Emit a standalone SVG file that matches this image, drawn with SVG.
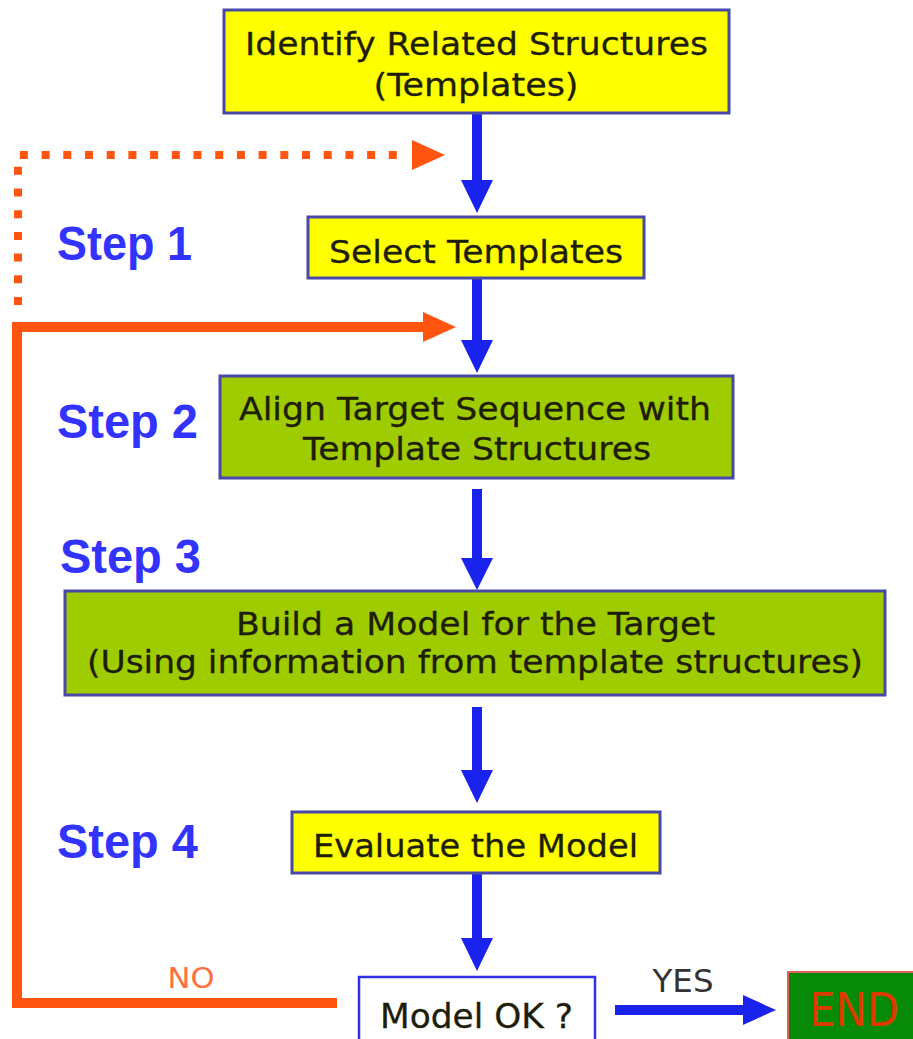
<svg xmlns="http://www.w3.org/2000/svg" width="913" height="1039" viewBox="0 0 913 1039">
  <style>
    .box-y { fill: #ffff00; stroke: #4848a8; stroke-width: 3; }
    .box-g { fill: #9fcc00; stroke: #4848a8; stroke-width: 3; }
    .box-w { fill: #ffffff; stroke: #3030ee; stroke-width: 2.5; }
    .lbl { font-family: "DejaVu Sans", Verdana, sans-serif; fill: #1e1e08; text-anchor: middle; stroke: #1e1e08; stroke-width: 0.3; }
    .step { font-family: "Liberation Sans", Arial, sans-serif; font-weight: bold; font-size: 49px; fill: #3333ff; }
    .flow { stroke: #1a22ee; stroke-width: 10; fill: none; }
    .head { fill: #1a22ee; }
    .back { stroke: #ff5511; stroke-width: 10; fill: none; }
    .back-dot { stroke: #ff5511; stroke-width: 8; fill: none; stroke-dasharray: 8 13.7; }
    .ohead { fill: #ff5511; }
  </style>

  <rect width="913" height="1039" fill="#ffffff"/>

  <!-- step labels -->
  <g id="step-labels">
    <text class="step" x="57" y="260" textLength="135" lengthAdjust="spacingAndGlyphs">Step 1</text>
    <text class="step" x="57" y="438" textLength="141" lengthAdjust="spacingAndGlyphs">Step 2</text>
    <text class="step" x="60" y="573" textLength="141" lengthAdjust="spacingAndGlyphs">Step 3</text>
    <text class="step" x="57" y="858" textLength="141" lengthAdjust="spacingAndGlyphs">Step 4</text>
  </g>

  <!-- connectors -->
  <g id="connectors">
    <!-- main downward flow -->
    <line class="flow" x1="477" y1="113" x2="477" y2="182"/>
    <polygon class="head" points="461,180 493,180 477,213"/>
    <line class="flow" x1="477" y1="278" x2="477" y2="342"/>
    <polygon class="head" points="461,340 493,340 477,373"/>
    <line class="flow" x1="477" y1="489" x2="477" y2="560"/>
    <polygon class="head" points="461,558 493,558 477,590"/>
    <line class="flow" x1="477" y1="707" x2="477" y2="772"/>
    <polygon class="head" points="461,770 493,770 477,803"/>
    <line class="flow" x1="477" y1="873" x2="477" y2="940"/>
    <polygon class="head" points="461,938 493,938 477,971"/>

    <!-- YES branch -->
    <line class="flow" x1="615" y1="1010" x2="746" y2="1010"/>
    <polygon class="head" points="743,995 743,1025 776,1010"/>

    <!-- NO loop back to alignment -->
    <path class="back" d="M337,1003 H17 V327 H426"/>
    <polygon class="ohead" points="423,312 423,342 456,327"/>

    <!-- optional loop back to template search -->
    <path class="back-dot" d="M18,305 V155 H410"/>
    <polygon class="ohead" points="412,140 412,170 445,155"/>

    <text x="191" y="988" font-family="DejaVu Sans, Verdana, sans-serif" font-size="28" fill="#ff7040" text-anchor="middle" textLength="47" lengthAdjust="spacingAndGlyphs">NO</text>
    <text x="683" y="992" font-family="DejaVu Sans, Verdana, sans-serif" font-size="32" fill="#333333" text-anchor="middle" textLength="61" lengthAdjust="spacingAndGlyphs">YES</text>
  </g>

  <g id="identify">
    <rect class="box-y" x="224" y="10" width="505" height="103"/>
    <text class="lbl" x="476.5" y="55" font-size="32" textLength="463" lengthAdjust="spacingAndGlyphs">Identify Related Structures</text>
    <text class="lbl" x="476" y="96" font-size="32" textLength="205" lengthAdjust="spacingAndGlyphs">(Templates)</text>
  </g>

  <g id="select">
    <rect class="box-y" x="308" y="217" width="336" height="61"/>
    <text class="lbl" x="476" y="263" font-size="32" textLength="294" lengthAdjust="spacingAndGlyphs">Select Templates</text>
  </g>

  <g id="align">
    <rect class="box-g" x="220" y="376" width="513" height="102"/>
    <text class="lbl" x="475" y="420" font-size="32" textLength="472" lengthAdjust="spacingAndGlyphs">Align Target Sequence with</text>
    <text class="lbl" x="477" y="460" font-size="32" textLength="348" lengthAdjust="spacingAndGlyphs">Template Structures</text>
  </g>

  <g id="build">
    <rect class="box-g" x="65" y="591" width="820" height="104"/>
    <text class="lbl" x="475.5" y="635" font-size="32" textLength="479" lengthAdjust="spacingAndGlyphs">Build a Model for the Target</text>
    <text class="lbl" x="475" y="673" font-size="32" textLength="776" lengthAdjust="spacingAndGlyphs">(Using information from template structures)</text>
  </g>

  <g id="evaluate">
    <rect class="box-y" x="292" y="812" width="368" height="61"/>
    <text class="lbl" x="475.5" y="857" font-size="32" textLength="325" lengthAdjust="spacingAndGlyphs">Evaluate the Model</text>
  </g>

  <g id="model-ok">
    <rect class="box-w" x="359" y="977" width="236" height="70"/>
    <text class="lbl" x="476.5" y="1028" font-size="33" fill="#333333" stroke="#333333" textLength="193" lengthAdjust="spacingAndGlyphs">Model OK ?</text>
  </g>

  <g id="end">
    <rect x="788" y="972" width="130" height="75" fill="#078a07" stroke="#e06060" stroke-width="2"/>
    <text x="809" y="1026" font-family="DejaVu Sans, Verdana, sans-serif" font-size="46" fill="#dd3a00" textLength="90" lengthAdjust="spacingAndGlyphs">END</text>
  </g>
</svg>
